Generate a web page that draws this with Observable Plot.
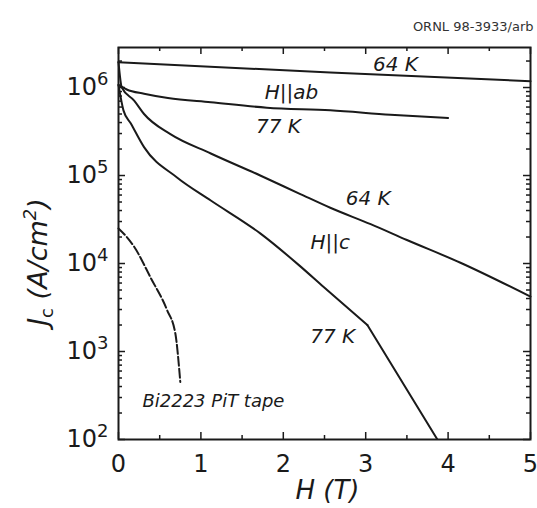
<!DOCTYPE html>
<html><head><meta charset="utf-8">
<script src="https://cdn.jsdelivr.net/npm/d3@7"></script>
<script src="https://cdn.jsdelivr.net/npm/@observablehq/plot@0.6"></script>
<style>body{margin:0;background:#fff}</style>
</head><body><div id="chart"></div>
<script>
// H || ab, 64 K
const ab64H = [0, 2.57, 5];
const ab64J = [1.94e6, 1.48e6, 1.18e6];
// H || ab, 77 K
const ab77H = [0, 0.1, 0.31, 0.6, 1.12, 1.8, 2.57, 3.3, 4.0];
const ab77J = [1.07e6, 9.5e5, 8.5e5, 7.6e5, 6.8e5, 5.9e5, 5.5e5, 4.9e5, 4.5e5];
// H || c, 64 K
const c64H = [0, 0.04, 0.19, 0.31, 0.63, 1.12, 1.72, 2.2, 2.57, 3.06, 3.5, 4.15, 5];
const c64J = [1.95e6, 1.0e6, 7.1e5, 5.0e5, 2.95e5, 1.78e5, 1.0e5, 6.2e4, 4.3e4, 2.8e4, 1.85e4, 1.02e4, 4.2e3];
// H || c, 77 K (smooth part up to the kink, then straight part)
const c77H = [0, 0.06, 0.15, 0.31, 0.71, 1.12, 1.72, 2.2, 2.49, 3.02];
const c77J = [1.07e6, 5.5e5, 3.9e5, 2.1e5, 9.5e4, 5.2e4, 2.2e4, 9.4e3, 5.4e3, 2.0e3];
const c77TailH = [3.02, 3.87];
const c77TailJ = [2.0e3, 100];
// Bi2223 PiT tape, 77 K
const bitH = [0, 0.1, 0.19, 0.39, 0.59, 0.69, 0.75];
const bitJ = [2.5e4, 2.0e4, 1.55e4, 6.9e3, 2.95e3, 1.6e3, 450];

// curve labels (position in data units)
const labelText = ["64 K", "H||ab", "77 K", "64 K", "H||c", "77 K"];
const labelH = [3.36, 2.10, 1.94, 3.03, 2.57, 2.60];
const labelJ = [1.82e6, 8.7e5, 3.6e5, 5.5e4, 1.74e4, 1.48e3];
const tapeLabel = ["Bi2223 PiT tape"];
const tapeLabelH = [0.29];
const tapeLabelJ = [270];

// ticks
const xTicks = [0, 1, 2, 3, 4, 5];
const xMinorTicks = [0.5, 1.5, 2.5, 3.5, 4.5];
const yTicks = [1e2, 1e3, 1e4, 1e5, 1e6];
const yMinorTicks = [];
for (const d of [1e2, 1e3, 1e4, 1e5, 1e6]) for (let k = 2; k <= 9; k++) if (k * d < 2.85e6) yMinorTicks.push(k * d);

const credit = ["ORNL 98-3933/arb"];

const toRows = (H, J) => H.map((h, i) => ({h, j: J[i]}));

const W = 537, Hh = 508, mL = 118, mR = 7, mT = 47, mB = 69;
const plotW = W - mL - mR, plotH = Hh - mT - mB;
const maj = 7, mnr = 4;
const ink = "#1a1a1a";

const labels = labelText.map((t, i) => ({t, h: labelH[i], j: labelJ[i]}));
const tapeLabels = tapeLabel.map((t, i) => ({t, h: tapeLabelH[i], j: tapeLabelJ[i]}));

const plot = Plot.plot({
  width: W, height: Hh,
  marginLeft: mL, marginRight: mR, marginTop: mT, marginBottom: mB,
  style: {fontFamily: "DejaVu Sans", background: "white", color: ink},
  x: {domain: [0, 5]},
  y: {type: "log", domain: [100, 2.85e6]},
  marks: [
    Plot.line(toRows(ab64H, ab64J), {x: "h", y: "j", stroke: ink, strokeWidth: 2}),
    Plot.line(toRows(ab77H, ab77J), {x: "h", y: "j", stroke: ink, strokeWidth: 2, curve: "monotone-x"}),
    Plot.line(toRows(c64H, c64J), {x: "h", y: "j", stroke: ink, strokeWidth: 2, curve: "monotone-x"}),
    Plot.line(toRows(c77H, c77J), {x: "h", y: "j", stroke: ink, strokeWidth: 2, curve: "monotone-x"}),
    Plot.line(toRows(c77TailH, c77TailJ), {x: "h", y: "j", stroke: ink, strokeWidth: 2, clip: true}),
    Plot.line(toRows(bitH, bitJ), {x: "h", y: "j", stroke: ink, strokeWidth: 2, strokeDasharray: "9,3", curve: "monotone-x"}),
    // ticks (inward)
    Plot.tickX(xTicks, {x: d => d, insetTop: plotH - maj, stroke: ink, strokeWidth: 1.5}),
    Plot.tickX(xTicks, {x: d => d, insetBottom: plotH - maj, stroke: ink, strokeWidth: 1.5}),
    Plot.tickX(xMinorTicks, {x: d => d, insetTop: plotH - mnr, stroke: ink, strokeWidth: 1.5}),
    Plot.tickX(xMinorTicks, {x: d => d, insetBottom: plotH - mnr, stroke: ink, strokeWidth: 1.5}),
    Plot.tickY(yTicks, {y: d => d, insetRight: plotW - maj, stroke: ink, strokeWidth: 1.5}),
    Plot.tickY(yTicks, {y: d => d, insetLeft: plotW - maj, stroke: ink, strokeWidth: 1.5}),
    Plot.tickY(yMinorTicks, {y: d => d, insetRight: plotW - mnr, stroke: ink, strokeWidth: 1.5}),
    Plot.tickY(yMinorTicks, {y: d => d, insetLeft: plotW - mnr, stroke: ink, strokeWidth: 1.5}),
    Plot.frame({stroke: ink, strokeWidth: 2}),
    // axes labels
    Plot.axisX(xTicks, {tickSize: 0, tickPadding: 15, fontSize: 24, label: null, fill: ink}),
    Plot.axisY(yTicks, {tickSize: 0, tickPadding: 10, fontSize: 24, label: null, fill: ink,
      tickFormat: d => "10^" + Math.round(Math.log10(d))}),
    Plot.text(["H (T)"], {frameAnchor: "bottom", dy: 59, dx: 3, fontSize: 26, fontStyle: "italic", fill: ink}),
    // curve labels
    Plot.text(labels, {x: "h", y: "j", text: "t", fontSize: 20, fontStyle: "italic", fill: ink}),
    Plot.text(tapeLabels, {x: "h", y: "j", text: "t", fontSize: 18, fontStyle: "italic", textAnchor: "start", fill: ink}),
    Plot.text(credit, {frameAnchor: "top-right", dx: 3, dy: -26, fontSize: 13, textAnchor: "end", fill: "#333"})
  ]
});

// superscripts on y tick labels
d3.select(plot).selectAll('g[aria-label="y-axis tick label"] text').each(function() {
  const m = this.textContent.match(/^10\^(\d+)$/);
  if (!m) return;
  const t = d3.select(this);
  t.text(null);
  t.append("tspan").text("10");
  t.append("tspan").attr("font-size", 18).attr("dy", -10).text(m[1]);
});

// y-axis title with subscript and superscript
const yl = d3.select(plot).append("text")
  .attr("transform", "translate(47,262) rotate(-90)")
  .attr("text-anchor", "middle")
  .attr("font-size", 27)
  .attr("font-style", "italic")
  .attr("fill", ink);
yl.append("tspan").text("J");
yl.append("tspan").attr("font-size", 18).attr("font-style", "normal").attr("dy", 6).text("c");
yl.append("tspan").attr("dy", -6).text(" (A/cm");
yl.append("tspan").attr("font-size", 18).attr("dy", -11).text("2");
yl.append("tspan").attr("dy", 11).text(")");

document.getElementById("chart").appendChild(plot);
</script>
</body></html>
